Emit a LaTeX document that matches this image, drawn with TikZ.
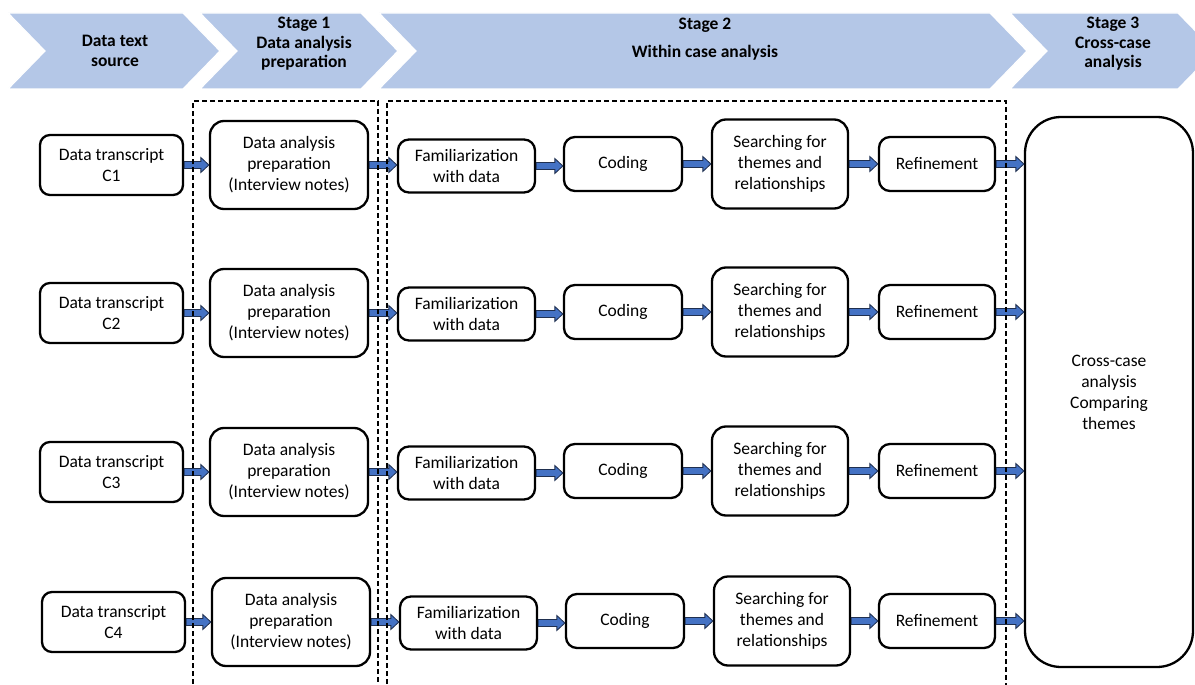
\documentclass[tikz,border=0pt]{standalone}
\usepackage{fontspec}
\setmainfont{Carlito}
\usetikzlibrary{calc}
\definecolor{chevfill}{HTML}{B4C7E7}
\definecolor{arrowblue}{HTML}{4472C4}
\definecolor{arrowline}{HTML}{1F2F4F}

\tikzset{
  px/.style={x=1pt,y=-1pt},
  box/.style={draw=black, line width=2.3pt, rounded corners=11pt, fill=white,
    align=center, inner sep=0pt, font=\fontsize{17.5}{21}\selectfont},
  chevron/.style={fill=chevfill, draw=white, line width=1.2pt},
  headtext/.style={align=center, inner sep=0pt, font=\bfseries\fontsize{17.5}{19.5}\selectfont},
  barrow/.style={fill=arrowblue, draw=arrowline, line width=0.8pt},
  stagebox/.style={draw=black, line width=1.4pt, dash pattern=on 5pt off 3pt}
}

% block arrow from one anchor to the x of another, at the height of the first
\newcommand{\blockarrow}[2]{%
  \draw[barrow] let \p1=(#1), \p2=(#2) in
    (\x1,\y1+3.5pt) -- (\x2-8pt,\y1+3.5pt) -- (\x2-8pt,\y1+7.5pt) -- (\x2,\y1)
    -- (\x2-8pt,\y1-7.5pt) -- (\x2-8pt,\y1-3.5pt) -- (\x1,\y1-3.5pt) -- cycle;}

\begin{document}
\begin{tikzpicture}[px]
\useasboundingbox (0,0) rectangle (1195,685);
\fill[white] (0,0) rectangle (1195,685);

% stage chevrons
\draw[chevron] (8,13) -- (183,13) -- (220,51) -- (183,89) -- (8,89) -- (45,51) -- cycle;
\draw[chevron] (200,13) -- (361,13) -- (398,51) -- (361,89) -- (200,89) -- (237,51) -- cycle;
\draw[chevron] (379,13) -- (990,13) -- (1027,51) -- (990,89) -- (379,89) -- (416,51) -- cycle;
\draw[chevron] (1010,13) -- (1178,13) -- (1215,51) -- (1178,89) -- (1010,89) -- (1047,51) -- cycle;

\node[headtext] (h0) at (115,51) {Data text\\source};
\node[headtext] (h1) at (304,44) {Stage 1\\Data analysis\\preparation};
\node[headtext] (h2) at (705,39) {Stage 2\\[8pt]Within case analysis};
\node[headtext] (h3) at (1113,44) {Stage 3\\Cross-case\\analysis};

% cross-case box
\node[box, rounded corners=36pt, minimum width=168pt, minimum height=550pt] (cc) at (1109,392)
  {Cross-case\\analysis\\Comparing\\themes};

% one row of boxes per case
\foreach \i/\Y/\dx in {1/165/0, 2/313/0, 3/472/0, 4/622/2} {
  \node[box, rounded corners=10pt, minimum width=143pt, minimum height=60pt] (c\i) at (111.5+\dx,\Y) {Data transcript\\C\i};
  \node[box, rounded corners=14pt, minimum width=158pt, minimum height=88pt] (p\i) at (289+\dx,\Y) {Data analysis\\preparation\\(Interview notes)};
  \node[box, minimum width=137pt, minimum height=53pt] (f\i) at (466.5+\dx,\Y+1) {Familiarization\\with data};
  \node[box, minimum width=118pt, minimum height=54pt] (k\i) at (623+\dx,\Y-1) {Coding};
  \node[box, rounded corners=14pt, minimum width=136pt, minimum height=89pt] (s\i) at (780+\dx,\Y-1) {Searching for\\themes and\\relationships};
  \node[box, minimum width=116pt, minimum height=54pt] (r\i) at (937,\Y-1) {Refinement};
  \blockarrow{c\i.east}{p\i.west}
  \blockarrow{p\i.east}{f\i.west}
  \blockarrow{f\i.east}{k\i.west}
  \blockarrow{k\i.east}{s\i.west}
  \blockarrow{s\i.east}{r\i.west}
  \blockarrow{r\i.east}{cc.west}
}

% dashed stage frames, open at the bottom
\draw[stagebox] (193,700) -- (193,101) -- (378,101) -- (378,700);
\draw[stagebox] (387,700) -- (387,101) -- (1006,101) -- (1006,700);
\end{tikzpicture}
\end{document}
